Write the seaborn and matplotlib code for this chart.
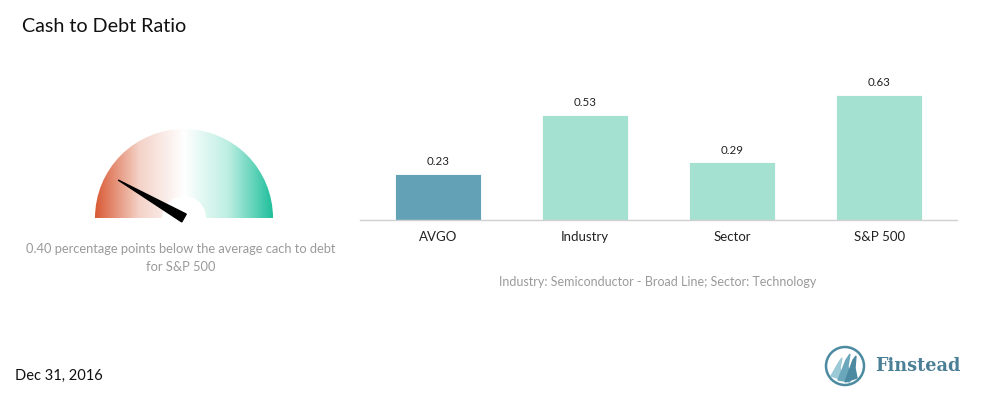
import matplotlib
matplotlib.use("Agg")
import matplotlib.pyplot as plt
import seaborn as sns
import numpy as np
import pandas as pd
from matplotlib.colors import LinearSegmentedColormap
from matplotlib.patches import Wedge, Polygon, Circle

# data
categories = ["AVGO", "Industry", "Sector", "S&P 500"]
ratios = [0.23, 0.53, 0.29, 0.63]
bar_colors = ["#62a1b6", "#a4e1d1", "#a4e1d1", "#a4e1d1"]
gauge_value = -0.40
gauge_range = 0.60
title = "Cash to Debt Ratio"
gauge_text = "0.40 percentage points below the average cach to debt\nfor S&P 500"
caption = "Industry: Semiconductor - Broad Line; Sector: Technology"
date_text = "Dec 31, 2016"

sns.set_theme(style="white")
plt.rcParams["font.family"] = ["Lato", "DejaVu Sans"]

W, H = 1000, 411
fig = plt.figure(figsize=(W / 100, H / 100), dpi=100)


def px_axes(x0, y0, x1, y1):
    # axes rect from pixel box (top-left origin)
    return fig.add_axes([x0 / W, 1 - y1 / H, (x1 - x0) / W, (y1 - y0) / H])


# ---- bar chart ----
df = pd.DataFrame({"cat": categories, "val": ratios})
ax = px_axes(360, 80, 957, 220)
sns.barplot(data=df, x="cat", y="val", hue="cat", palette=dict(zip(categories, bar_colors)),
            width=0.58, saturation=1, legend=False, ax=ax, edgecolor="#ffffff", linewidth=0.6)
ax.set_xlim(-0.53, 3.53)
ax.set_ylim(0, 0.7056)
ax.set_xlabel("")
ax.set_ylabel("")
ax.set_yticks([])
for s in ["top", "right", "left"]:
    ax.spines[s].set_visible(False)
ax.spines["bottom"].set_color("#d0d0d0")
ax.spines["bottom"].set_linewidth(1)
ax.tick_params(axis="x", length=0, pad=8, labelsize=9.5, labelcolor="#222222")
for i, v in enumerate(ratios):
    ax.annotate(f"{v:.2f}", xy=(i, v), xytext=(0, 5), textcoords="offset points",
                ha="center", va="bottom", fontsize=8.3, color="#222222")

fig.text(658 / W, 1 - 282 / H, caption, ha="center", va="center", fontsize=9, color="#9a9a9a")

# ---- gauge ----
gx = px_axes(74, 111, 294, 231)
gx.set_xlim(-110, 110)
gx.set_ylim(-13, 107)
gx.set_aspect("equal")
gx.axis("off")
r_out, r_in = 89, 22
cmap = LinearSegmentedColormap.from_list("g", ["#d95a35", "#f4d3c8", "#ffffff", "#bdeee2", "#1fbf9c"])
grad = np.linspace(0, 1, 256).reshape(1, -1)
im = gx.imshow(grad, extent=(-r_out, r_out, 0, r_out), cmap=cmap, aspect="auto", zorder=1)
clip = Wedge((0, 0), r_out, 0, 180, width=r_out - r_in, transform=gx.transData)
im.set_clip_path(clip)

ang = np.deg2rad(90 - gauge_value / gauge_range * 90)
length = 76
tip = (length * np.cos(ang), length * np.sin(ang))
perp = (-np.sin(ang), np.cos(ang))
half = 4.5
base1 = (perp[0] * half, perp[1] * half)
base2 = (-perp[0] * half, -perp[1] * half)
gx.add_patch(Polygon([tip, base1, base2], closed=True, color="#000000", zorder=3))

fig.text(181 / W, 1 - 258 / H, gauge_text, ha="center", va="center", fontsize=9.3,
         color="#9a9a9a", linespacing=1.6)

# ---- titles ----
fig.text(22 / W, 1 - 26 / H, title, ha="left", va="center", fontsize=14.2, color="#111111")
fig.text(15 / W, 1 - 376 / H, date_text, ha="left", va="center", fontsize=10.5, color="#111111")

# ---- logo ----
lx = px_axes(822, 343, 868, 389)
lx.set_xlim(-23, 23)
lx.set_ylim(-23, 23)
lx.set_aspect("equal")
lx.axis("off")
lx.add_patch(Circle((0, 0), 19, fill=False, edgecolor="#4b8aa0", linewidth=1.8))
sails = [
    [(-14, -10), (-6, 4), (-3, 8), (-5, -2), (-2, -14)],
    [(-7, -14), (1, 6), (5, 12), (3, 0), (5, -16)],
    [(0, -16), (8, 6), (11, 10), (10, -2), (12, -12)],
]
for pts, c in zip(sails, ["#9cc9d6", "#6aa7bb", "#4b8aa0"]):
    lx.add_patch(Polygon(pts, closed=True, color=c))
fig.text(875 / W, 1 - 366 / H, "Finstead", ha="left", va="center", fontsize=12.7,
         fontweight="bold", family=["DejaVu Serif"], color="#4a7f95")

fig.savefig("out.png", dpi=100)
